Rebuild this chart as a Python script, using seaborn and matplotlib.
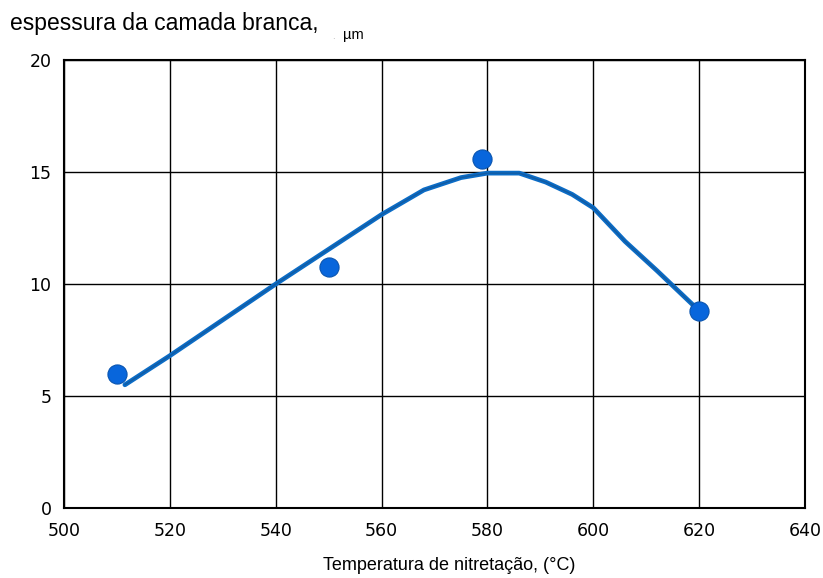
import matplotlib
matplotlib.use("Agg")
import matplotlib.pyplot as plt
import seaborn as sns
import pandas as pd

# Measured white-layer thickness
temp_measured = [510, 550, 579, 620]
thickness_measured = [6.0, 10.75, 15.6, 8.8]

# Fitted trend curve
temp_curve = [511.5, 520, 540, 560, 568, 575, 580, 586, 591, 596, 600, 606, 612, 620]
thickness_curve = [5.5, 6.8, 10.0, 13.1, 14.2, 14.75, 14.95, 14.95, 14.55, 14.0, 13.4, 11.9, 10.6, 8.8]

x_ticks = [500, 520, 540, 560, 580, 600, 620, 640]
y_ticks = [0, 5, 10, 15, 20]

sns.set_theme(style="white")
plt.rcParams["font.family"] = ["Liberation Sans", "DejaVu Sans"]

fig = plt.figure(figsize=(8.23, 5.78), dpi=100)
ax = fig.add_axes([0.0778, 0.1211, 0.9004, 0.7751])

curve = pd.DataFrame({"temp": temp_curve, "thk": thickness_curve})
meas = pd.DataFrame({"temp": temp_measured, "thk": thickness_measured})

sns.lineplot(data=curve, x="temp", y="thk", ax=ax, color="#0b6cc6",
             linewidth=3.4, sort=False, zorder=3)
sns.lineplot(data=curve, x="temp", y="thk", ax=ax, color="#17508a",
             linewidth=1.0, sort=False, zorder=3, alpha=0.6)
sns.scatterplot(data=meas, x="temp", y="thk", ax=ax, color="#0866dc",
                s=190, edgecolor="#0a55b0", linewidth=0.8, zorder=4)

ax.set_xlim(500, 640)
ax.set_ylim(0, 20)
ax.set_xticks(x_ticks)
ax.set_yticks(y_ticks)
ax.grid(True, color="black", linewidth=1.0)
ax.set_axisbelow(True)
for s in ax.spines.values():
    s.set_color("black")
    s.set_linewidth(1.5)
    s.set_visible(True)

ax.tick_params(axis="x", length=0, pad=10, labelsize=12.5, colors="black")
ax.tick_params(axis="y", length=0, pad=9, labelsize=12.5, colors="black")
for lab in ax.get_xticklabels() + ax.get_yticklabels():
    lab.set_family(["DejaVu Sans"])

ax.set_xlabel("Temperatura de nitretação, (°C)", fontsize=13, color="black")
ax.xaxis.set_label_coords(0.52, -0.128)
ax.xaxis.label.set_va("center")
ax.set_ylabel("")

fig.text(0.012, 1 - 30 / 578, "espessura da camada branca,", fontsize=16.5,
         color="black", va="baseline")
fig.text(332 / 823, 1 - 39 / 578, ".", fontsize=7, color="#b0b0b0", va="baseline")
fig.text(343 / 823, 1 - 39 / 578, "µm", fontsize=10.5, color="black", va="baseline")

fig.savefig("out.png", dpi=100, facecolor="white")
